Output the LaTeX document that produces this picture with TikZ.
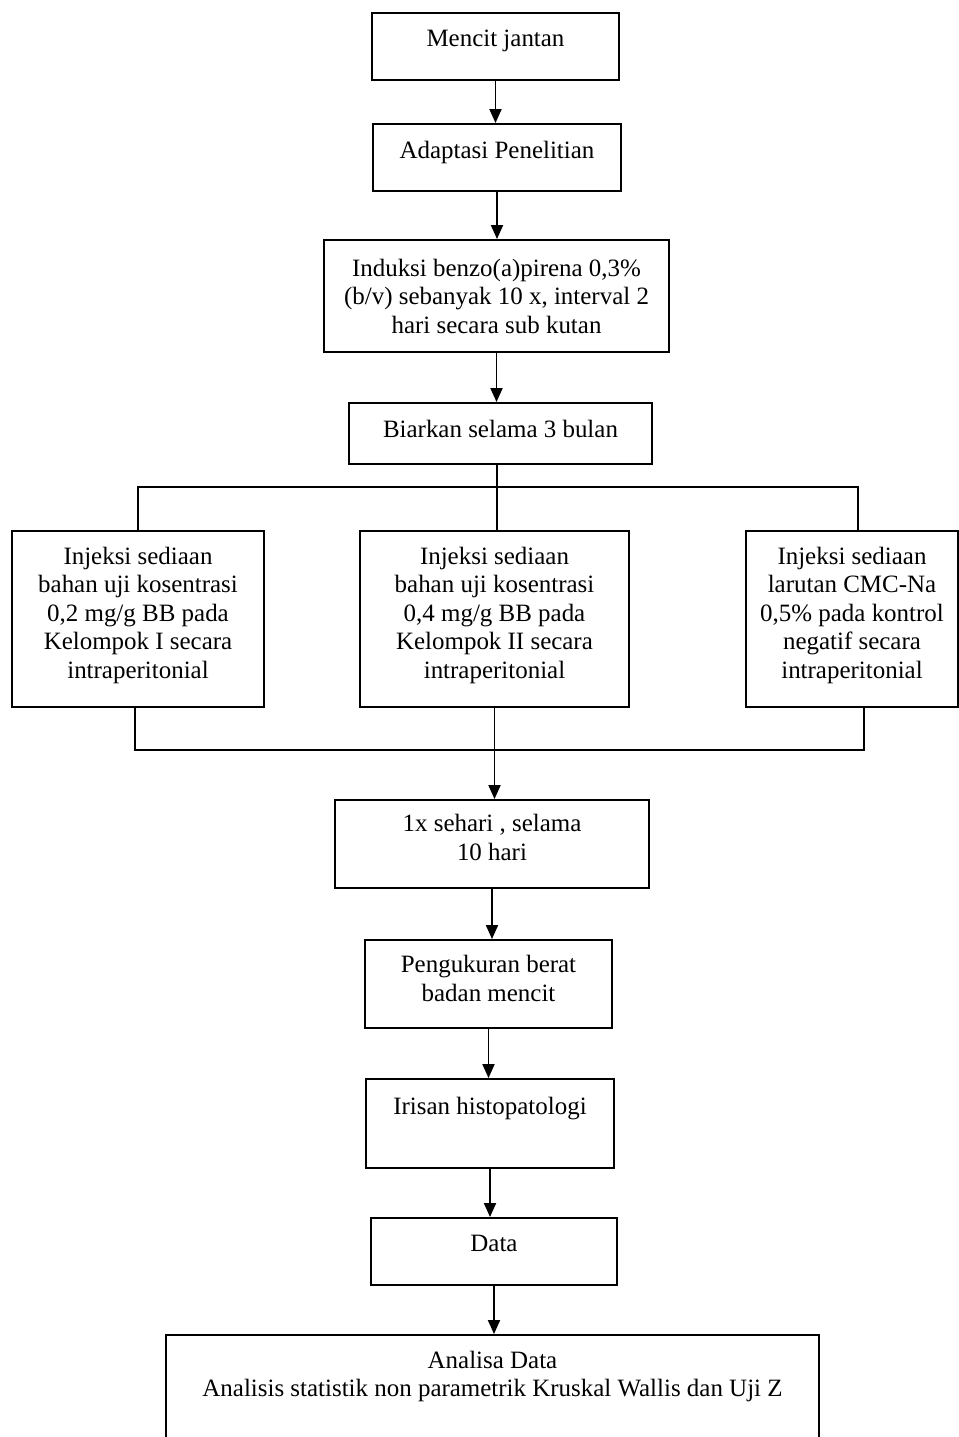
\documentclass[tikz,border=0pt]{standalone}
\usepackage{fontspec}
\setmainfont{Liberation Serif}
\usepackage{tikz}
\usetikzlibrary{arrows.meta, positioning, calc}
\newcommand{\flowsize}{\fontsize{14.2}{16.2}\selectfont}
\tikzset{
  box/.style={rectangle, draw=black, fill=white, align=center,
    font=\flowsize, inner sep=0pt, line width=1.1pt},
  lift/.style={text depth=#1},
  arrow/.style={-{Triangle[length=0.28cm, width=0.24cm]}, line width=1.1pt},
  line/.style={line width=1.1pt}
}

\begin{document}
\begin{tikzpicture}
  % ── Page frame ──────────────────────────────────────────────────────────────
  \useasboundingbox[fill=white] (0,0) rectangle (19.18,-28.74);

  % ── Upper chain ─────────────────────────────────────────────────────────────
  \node[box, lift=0.32cm, minimum width=4.94cm, minimum height=1.34cm] (mencit) at (9.91,-0.93) {Mencit jantan};
  \node[box, lift=0.32cm, minimum width=4.96cm, minimum height=1.34cm] (adaptasi) at (9.94,-3.15) {Adaptasi Penelitian};
  \node[box, minimum width=6.9cm, minimum height=2.24cm] (induksi) at (9.93,-5.92)
    {Induksi benzo(a)pirena 0,3\%\\(b/v) sebanyak 10 x, interval 2\\hari secara sub kutan};
  \node[box, lift=0.2cm, minimum width=6.06cm, minimum height=1.22cm] (biarkan) at (10.01,-8.67) {Biarkan selama 3 bulan};

  % ── Treatment groups ────────────────────────────────────────────────────────
  \node[box, lift=0.26cm, minimum width=5.04cm, minimum height=3.52cm] (kel1) at (2.76,-12.38)
    {Injeksi sediaan\\bahan uji kosentrasi\\0,2 mg/g BB pada\\Kelompok I secara\\intraperitonial};
  \node[box, lift=0.26cm, minimum width=5.38cm, minimum height=3.52cm] (kel2) at (9.89,-12.38)
    {Injeksi sediaan\\bahan uji kosentrasi\\0,4 mg/g BB pada\\Kelompok II secara\\intraperitonial};
  \node[box, lift=0.26cm, minimum width=4.24cm, minimum height=3.52cm] (kontrol) at (17.04,-12.38)
    {Injeksi sediaan\\larutan CMC-Na\\0,5\% pada kontrol\\negatif secara\\intraperitonial};

  % ── Lower chain ─────────────────────────────────────────────────────────────
  \node[box, lift=0.26cm, minimum width=6.28cm, minimum height=1.76cm] (sehari) at (9.84,-16.88) {1x sehari , selama\\10 hari};
  \node[box, lift=0.22cm, minimum width=4.94cm, minimum height=1.76cm] (ukur) at (9.77,-19.68) {Pengukuran berat\\badan mencit};
  \node[box, lift=0.72cm, minimum width=4.96cm, minimum height=1.78cm] (irisan) at (9.80,-22.47) {Irisan histopatologi};
  \node[box, lift=0.32cm, minimum width=4.92cm, minimum height=1.34cm] (data) at (9.88,-25.03) {Data};
  \node[box, lift=1.04cm, minimum width=13.06cm, minimum height=2.6cm] (analisa) at (9.85,-28.0)
    {Analisa Data\\Analisis statistik non parametrik Kruskal Wallis dan Uji Z};

  % ── Connectors ──────────────────────────────────────────────────────────────
  \draw[arrow] (mencit.south) -- (mencit.south |- adaptasi.north);
  \draw[arrow] (adaptasi.south) -- (adaptasi.south |- induksi.north);
  \draw[arrow] (induksi.south) -- (induksi.south |- biarkan.north);
  % Split to the three groups
  \coordinate (split) at (9.94,-9.74);
  \coordinate (splitL) at (2.76,-9.74);
  \coordinate (splitR) at (17.16,-9.74);
  \draw[line] (biarkan.south -| split) -- (split |- kel2.north);
  \draw[line] (splitL |- kel1.north) -- (splitL) -- (splitR) -- (splitR |- kontrol.north);
  % Join below the groups
  \coordinate (joinL) at (2.70,-15.0);
  \coordinate (joinR) at (17.28,-15.0);
  \draw[line] (joinL |- kel1.south) -- (joinL) -- (joinR) -- (joinR |- kontrol.south);
  \draw[arrow] (kel2.south) -- (kel2.south |- sehari.north);
  \draw[arrow] (sehari.south) -- (sehari.south |- ukur.north);
  \draw[arrow] (ukur.south) -- (ukur.south |- irisan.north);
  \draw[arrow] (irisan.south) -- (irisan.south |- data.north);
  \draw[arrow] (data.south) -- (data.south |- analisa.north);
\end{tikzpicture}
\end{document}
